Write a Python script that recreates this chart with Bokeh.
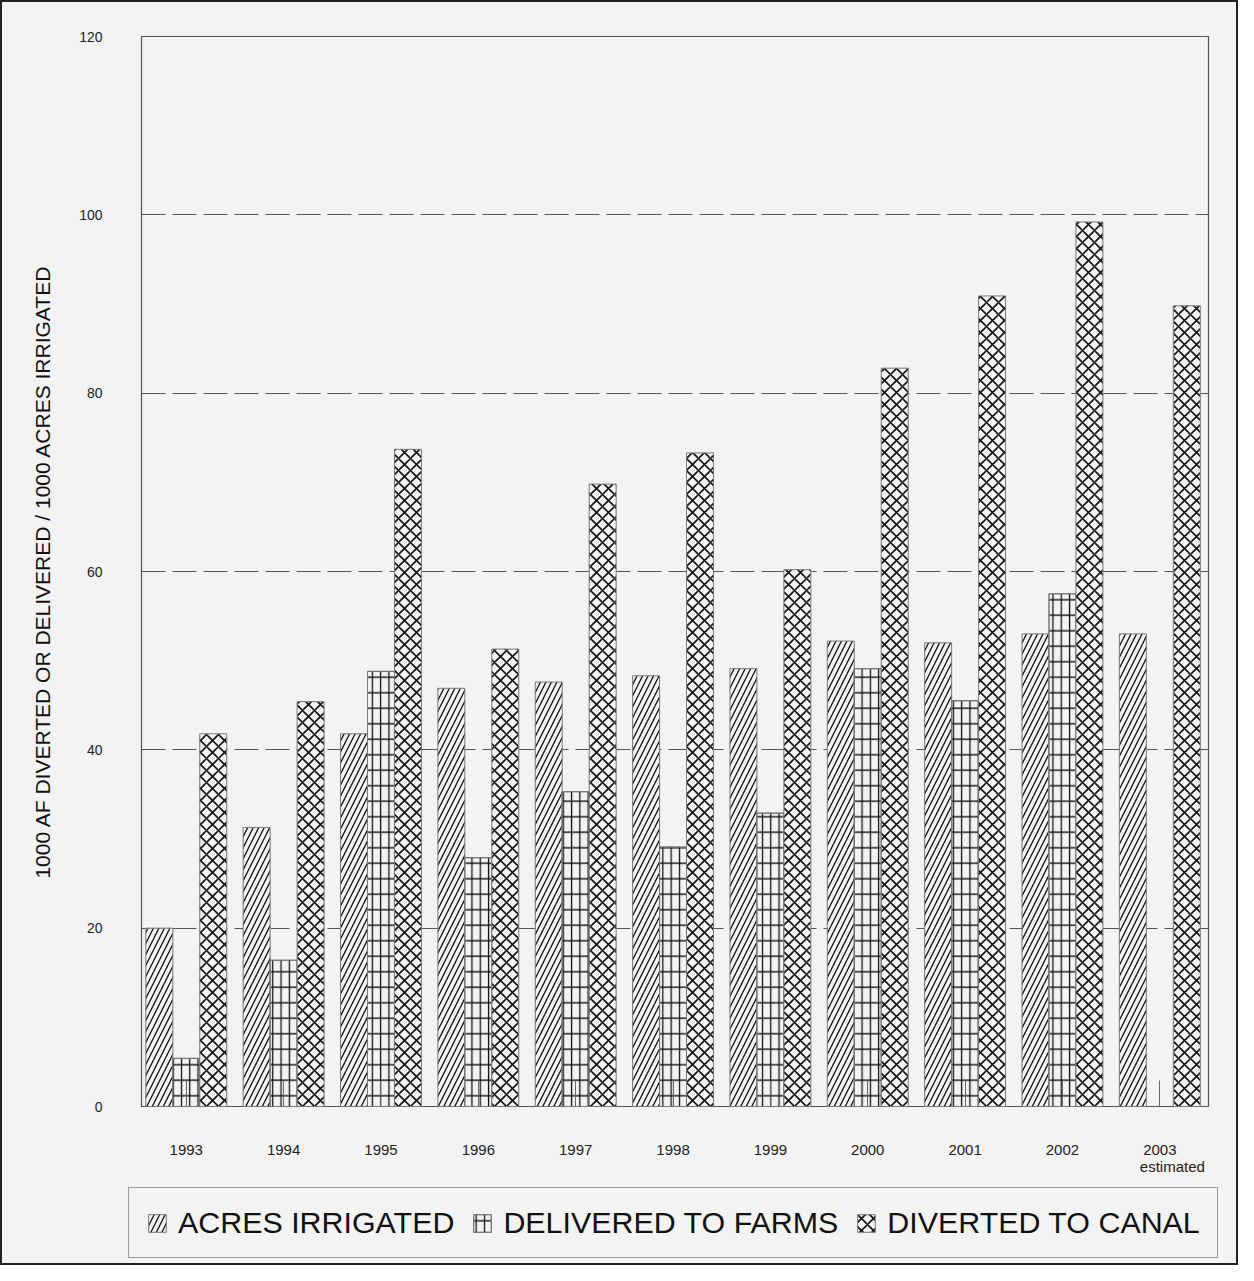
import math
from bokeh.plotting import figure
from bokeh.layouts import column
from bokeh.models import FixedTicker, Range1d, Legend, LegendItem, ColumnDataSource
from bokeh.transform import dodge
from bokeh.embed import file_html
from bokeh.resources import INLINE

# ---- data ----
years = ["1993", "1994", "1995", "1996", "1997", "1998", "1999", "2000", "2001", "2002", "2003"]
acres_irrigated = [20.0, 31.3, 41.8, 46.9, 47.6, 48.3, 49.1, 52.2, 52.0, 53.0, 53.0]
delivered_to_farms = [5.4, 16.4, 48.8, 27.9, 35.3, 29.1, 32.9, 49.1, 45.5, 57.5, float("nan")]
diverted_to_canal = [41.8, 45.4, 73.7, 51.3, 69.8, 73.3, 60.2, 82.8, 90.9, 99.2, 89.8]
y_ticks = [0, 20, 40, 60, 80, 100, 120]
series_labels = ["ACRES IRRIGATED", "DELIVERED TO FARMS", "DIVERTED TO CANAL"]
y_axis_title = "1000 AF DIVERTED OR DELIVERED / 1000 ACRES IRRIGATED"
note_text = "estimated"

BG = "#f3f3f3"
FONT = "Liberation Sans"
NBSP = "\u00a0"
W = 1234

positions = list(range(len(years)))
src = ColumnDataSource(dict(x=positions, acres=acres_irrigated,
                            delivered=delivered_to_farms, diverted=diverted_to_canal))

bw = 0.277
base = dict(width=bw, source=src, fill_color=BG, line_color="#777", line_width=1,
            hatch_color="#111")
s_acres = dict(hatch_pattern="/", hatch_scale=11, hatch_weight=1.3)
s_del_h = dict(hatch_pattern="-", hatch_scale=15.5, hatch_weight=1.4)
s_del_v = dict(hatch_pattern="|", hatch_scale=8.3, hatch_weight=1.3, fill_alpha=0)
s_div = dict(hatch_pattern="x", hatch_scale=12, hatch_weight=1.6)


def add_bars(fig):
    r1 = fig.vbar(x=dodge("x", -bw, range=fig.x_range), top="acres", **base, **s_acres)
    r2a = fig.vbar(x=dodge("x", 0, range=fig.x_range), top="delivered", **base, **s_del_h)
    r2b = fig.vbar(x=dodge("x", 0, range=fig.x_range), top="delivered", **base, **s_del_v)
    r3 = fig.vbar(x=dodge("x", bw, range=fig.x_range), top="diverted", **base, **s_div)
    return r1, r2a, r2b, r3


# ---------------- main chart ----------------
p = figure(width=W, height=1175, output_backend="svg", toolbar_location=None,
           title=None,
           x_range=Range1d(-0.46, 10.5), y_range=Range1d(0, 120),
           min_border_left=139, min_border_right=28, min_border_top=34, min_border_bottom=71,
           background_fill_color=BG, border_fill_color=BG)
add_bars(p)

p.xgrid.grid_line_color = None
p.ygrid.ticker = FixedTicker(ticks=y_ticks)
p.ygrid.grid_line_color = "#555"
p.ygrid.grid_line_dash = "24 7"
p.ygrid.grid_line_width = 1
p.outline_line_color = "#555"
p.outline_line_width = 1.2

ya = p.yaxis[0]
ya.ticker = FixedTicker(ticks=y_ticks)
ya.axis_line_color = None
ya.major_tick_line_color = None
ya.minor_tick_line_color = None
ya.major_label_standoff = 33
ya.major_label_text_font = FONT
ya.major_label_text_font_size = "14px"
ya.major_label_text_color = "#222"
ya.axis_label = y_axis_title
ya.axis_label_text_font = FONT
ya.axis_label_text_font_size = "21px"
ya.axis_label_text_font_style = "normal"
ya.axis_label_text_color = "#111"
ya.axis_label_standoff = 22

labels = {i: y for i, y in enumerate(years)}
labels[len(years) - 1] = years[-1] + "\n" + NBSP * 6 + note_text
xa = p.xaxis[0]
xa.ticker = FixedTicker(ticks=positions)
xa.major_label_overrides = labels
xa.axis_line_color = None
xa.minor_tick_line_color = None
xa.major_tick_in = 26
xa.major_tick_out = 0
xa.major_tick_line_color = "#666"
xa.major_label_standoff = 34
xa.major_label_text_font = FONT
xa.major_label_text_font_size = "15px"
xa.major_label_text_color = "#222"
xa.major_label_text_line_height = 1.0

# ---------------- legend strip ----------------
lf = figure(width=W, height=86, output_backend="svg", toolbar_location=None, title=None,
            x_axis_location=None, y_axis_location=None, min_border=0,
            min_border_left=0, min_border_right=0, min_border_top=0, min_border_bottom=0,
            x_range=Range1d(-0.46, 10.5), y_range=Range1d(500, 600),
            background_fill_color=BG, border_fill_color=BG, outline_line_color=None,
            frame_align=False)
lf.grid.visible = False
l1, l2a, l2b, l3 = add_bars(lf)

legend = Legend(items=[LegendItem(label=series_labels[0], renderers=[l1]),
                       LegendItem(label=series_labels[1], renderers=[l2a, l2b]),
                       LegendItem(label=series_labels[2], renderers=[l3])],
                orientation="horizontal", location=(126, 5),
                label_text_font=FONT, label_text_font_size="30.4px", label_text_color="#111",
                glyph_width=22, glyph_height=22, label_standoff=10, spacing=17,
                padding=17, margin=0,
                border_line_color="#444", border_line_width=1,
                background_fill_color=BG, background_fill_alpha=1)
lf.add_layout(legend)

page = column(p, lf, spacing=0, styles={"border": "2px solid #222", "background": BG})

open("out.html", "w").write(file_html(page, INLINE))
